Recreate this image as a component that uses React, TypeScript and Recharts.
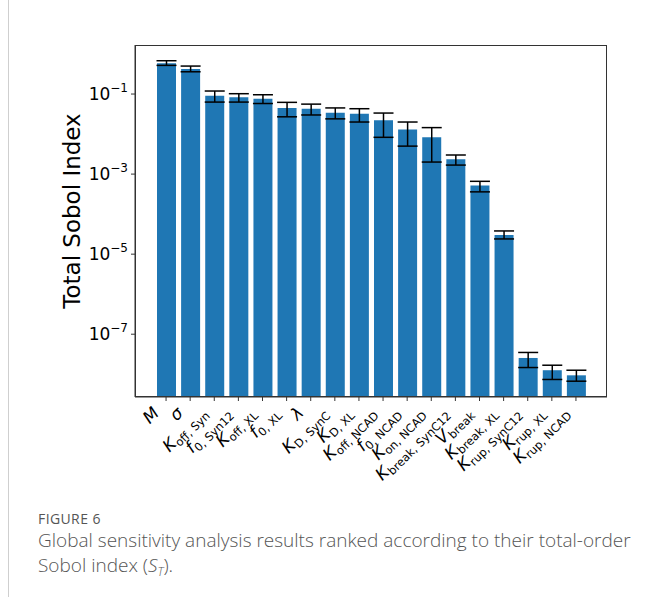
import React from 'react'
import { Bar, BarChart, ErrorBar, XAxis, YAxis } from 'recharts';

// parameter labels: main symbol + subscript
const labelMain = ['M', 'σ', 'K', 'f', 'K', 'f', 'λ', 'K', 'K', 'K', 'f', 'K', 'K', 'V', 'K', 'K', 'K', 'K'];
const labelSub = ['', '', 'off, Syn', '0, Syn12', 'off, XL', '0, XL', '', 'D, SynC', 'D, XL', 'off, NCAD', '0, NCAD',
    'on, NCAD', 'break, SynC12', 'break', 'break, XL', 'rup, SynC12', 'rup, XL', 'rup, NCAD'];

// total-order Sobol index and its confidence bounds
const sobolT = [0.59, 0.42, 0.091, 0.083, 0.076, 0.045, 0.043, 0.034, 0.032, 0.022, 0.0131, 0.0083,
    0.00234, 0.00052, 3.0e-5, 2.55e-8, 1.26e-8, 9.4e-9];
const sobolLow = [0.52, 0.36, 0.063, 0.063, 0.058, 0.027, 0.030, 0.024, 0.020, 0.0083, 0.005, 0.0020,
    0.00168, 0.00036, 2.4e-5, 1.47e-8, 7.4e-9, 6.7e-9];
const sobolHigh = [0.68, 0.50, 0.119, 0.102, 0.096, 0.062, 0.056, 0.045, 0.043, 0.0335, 0.020, 0.0145,
    0.0030, 0.00066, 3.8e-5, 3.5e-8, 1.68e-8, 1.26e-8];

const yTicks = [1e-1, 1e-3, 1e-5, 1e-7];

const data = sobolT.map((v, i) => ({
    name: String(i),
    st: v,
    err: [v - sobolLow[i], sobolHigh[i] - v]
}));

const FONT = 'DejaVu Sans';

function YTick(props: any) {
    const { x, y, payload } = props;
    const exp = Math.round(Math.log10(payload.value));
    return (
        <text x={x} y={y + 6} textAnchor="end" fontFamily={FONT} fontSize={17} fill="#000">
            10<tspan dy={-8} fontSize={12}>{'\u2212' + Math.abs(exp)}</tspan>
        </text>
    );
}

function XTick(props: any) {
    const { x, payload } = props;
    const i = Number(payload.value);
    const ax = x - 6;
    const ay = 414;
    const sub = labelSub[i];
    return (
        <text x={ax} y={ay} textAnchor="end" fontFamily={FONT} fontSize={17} fill="#000"
            transform={`rotate(-45 ${ax} ${ay})`}>
            <tspan fontStyle="italic">{labelMain[i]}</tspan>
            {sub ? <tspan dy={3.5} fontSize={11.5}>{sub}</tspan> : null}
        </text>
    );
}

function YLabel() {
    return (
        <text x={80} y={211} textAnchor="middle" fontFamily={FONT} fontSize={23} fill="#000"
            transform="rotate(-90 80 211)">Total Sobol Index</text>
    );
}

export default function App() {
    return (
        <div style={{ position: 'absolute', left: 0, top: 0, width: 662, height: 597, background: '#fff' }}>
            <div style={{ position: 'absolute', left: 8, top: 0, width: 1, height: 597, background: '#cfcfcf' }} />
            <div style={{ position: 'absolute', left: 0, top: 0 }}>
                <BarChart width={662} height={500} data={data}
                    margin={{ top: 45, right: 55, left: 0, bottom: 0 }}>
                    <XAxis dataKey="name" type="category" height={103} padding={{ left: 19, right: 19 }}
                        interval={0} tick={<XTick />} tickSize={4} tickLine={{ stroke: '#333' }}
                        axisLine={{ stroke: '#333' }} />
                    <YAxis scale="log" type="number" domain={[2.7e-9, 1.68]} allowDataOverflow width={135}
                        ticks={yTicks} tick={<YTick />} tickSize={4} tickMargin={3} tickLine={{ stroke: '#333' }}
                        axisLine={{ stroke: '#333' }} label={<YLabel />} />
                    <Bar dataKey="st" fill="#1f77b4" barSize={19} isAnimationActive={false}>
                        <ErrorBar dataKey="err" width={10} stroke="#000" strokeWidth={1.5} direction="y" />
                    </Bar>
                </BarChart>
            </div>
            <div style={{
                position: 'absolute', left: 135, top: 45, width: 472, height: 352, boxSizing: 'border-box',
                border: '1px solid #333', pointerEvents: 'none'
            }} />
            <div style={{
                position: 'absolute', left: 38, top: 509, fontFamily: 'Open Sans', fontSize: 14,
                letterSpacing: 0.4, color: '#555'
            }}>FIGURE 6</div>
            <div style={{
                position: 'absolute', left: 38, top: 528, width: 624, fontFamily: 'Open Sans', fontSize: 19,
                fontWeight: 300, lineHeight: '25px', color: '#555', whiteSpace: 'nowrap'
            }}>
                Global sensitivity analysis results ranked according to their total-order<br />
                Sobol index (<i>S</i><span style={{ fontSize: 12, fontStyle: 'italic', verticalAlign: '-4px', lineHeight: 0 }}>T</span>).
            </div>
        </div>
    );
}
